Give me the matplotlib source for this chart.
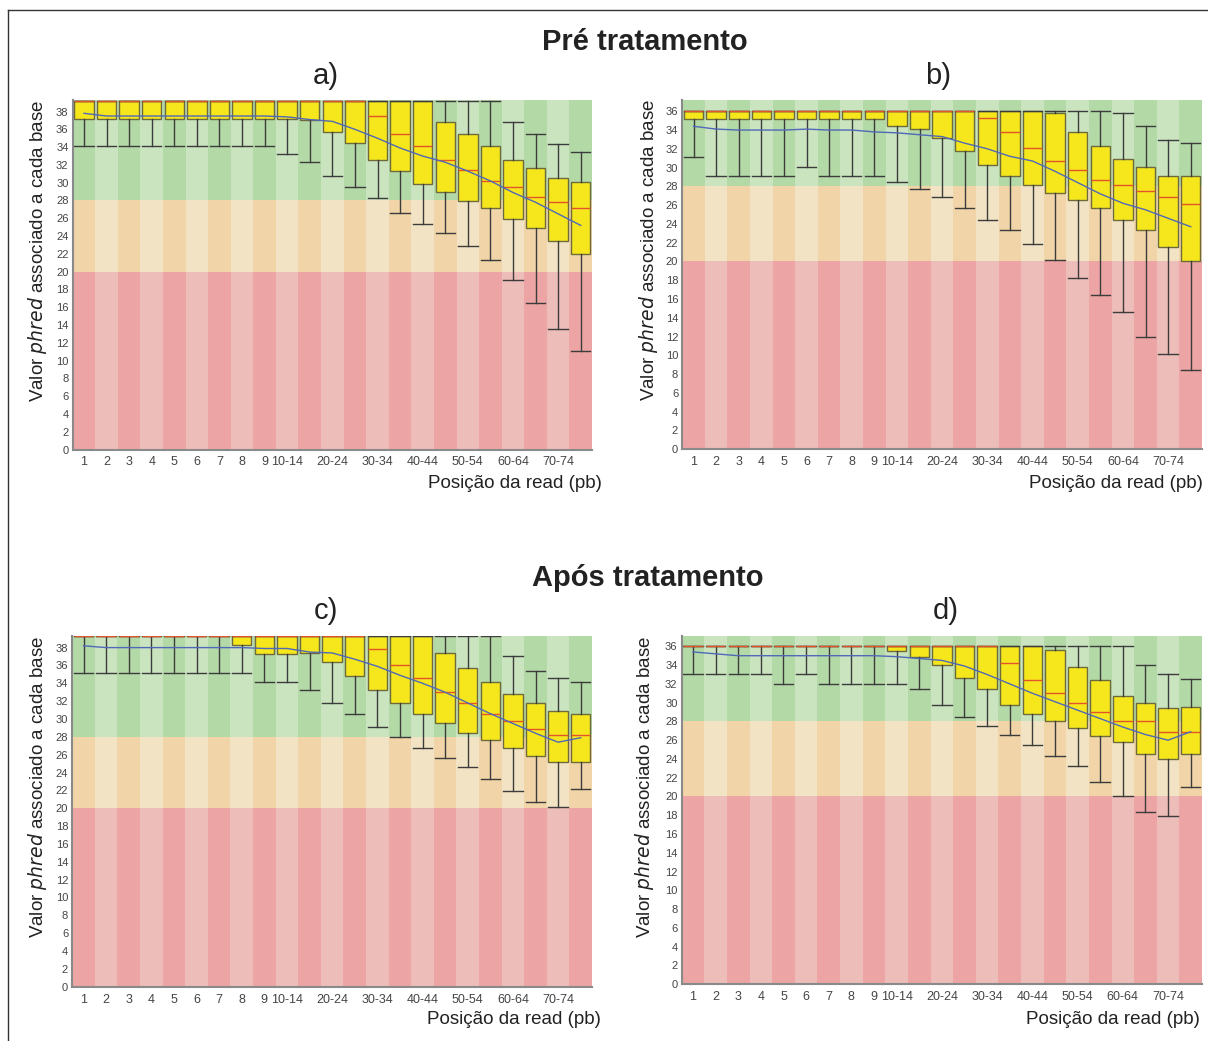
import numpy as np
import matplotlib.pyplot as plt
from matplotlib.lines import Line2D

plt.rcParams['font.family'] = ['Liberation Sans', 'DejaVu Sans']

pos_labels = ['1', '2', '3', '4', '5', '6', '7', '8', '9', '10-14', '15-19', '20-24',
              '25-29', '30-34', '35-39', '40-44', '45-49', '50-54', '55-59', '60-64',
              '65-69', '70-74', '75-76']
hidden = ['15-19', '25-29', '35-39', '45-49', '55-59', '65-69', '75-76']

# a) pre-treatment, read 1
a_q1 = [37.2]*9 + [37.2, 37.1, 35.7, 34.5, 32.6, 31.3, 29.9, 28.9, 27.9, 27.1, 25.9, 24.9, 23.5, 22.0]
a_med = [39.2]*13 + [37.5, 35.5, 34.1, 32.6, 31.4, 30.2, 29.5, 28.4, 27.8, 27.1]
a_q3 = [39.2]*16 + [36.8, 35.5, 34.1, 32.6, 31.6, 30.5, 30.1]
a_lo = [34.1]*9 + [33.2, 32.3, 30.7, 29.5, 28.3, 26.6, 25.4, 24.3, 22.9, 21.3, 19.1, 16.5, 13.6, 11.1]
a_hi = [39.2]*19 + [36.8, 35.5, 34.4, 33.5]
a_mean = [37.8, 37.5, 37.5, 37.5, 37.5, 37.5, 37.5, 37.5, 37.5, 37.4, 37.1, 36.9, 36.0,
          35.0, 33.9, 33.0, 32.3, 31.3, 30.2, 28.9, 27.8, 26.5, 25.2]

# b) pre-treatment, read 2
b_q1 = [35.2]*9 + [34.4, 34.1, 33.2, 31.8, 30.3, 29.1, 28.1, 27.3, 26.5, 25.7, 24.4, 23.3, 21.5, 20.1]
b_med = [36.0]*13 + [35.3, 33.8, 32.1, 30.7, 29.7, 28.7, 28.1, 27.5, 26.9, 26.1]
b_q3 = [36.0]*16 + [35.8, 33.8, 32.3, 30.9, 30.1, 29.1, 29.1]
b_lo = [31.1, 29.1, 29.1, 29.1, 29.1, 30.1, 29.1, 29.1, 29.1, 28.5, 27.7, 26.9, 25.7,
        24.4, 23.3, 21.9, 20.2, 18.2, 16.4, 14.6, 11.9, 10.1, 8.45]
b_hi = [36.0]*19 + [35.8, 34.4, 32.9, 32.6]
b_mean = [34.4, 34.1, 34.0, 34.0, 34.0, 34.1, 34.0, 34.0, 33.8, 33.7, 33.5, 33.3, 32.6,
          32.0, 31.2, 30.7, 29.6, 28.4, 27.2, 26.2, 25.5, 24.6, 23.7]

# c) post-treatment, read 1
c_q1 = [39.3]*7 + [38.3, 37.3, 37.3, 37.4, 36.4, 34.8, 33.3, 31.8, 30.6, 29.6, 28.4, 27.6, 26.8, 25.8, 25.2, 25.2]
c_med = [39.3]*13 + [37.8, 36.1, 34.6, 33.0, 31.8, 30.6, 29.8, 28.9, 28.2, 28.2]
c_q3 = [39.3]*16 + [37.4, 35.7, 34.2, 32.8, 31.8, 30.9, 30.6]
c_lo = [35.2]*8 + [34.2, 34.2, 33.3, 31.8, 30.6, 29.1, 28.0, 26.8, 25.6, 24.6, 23.3, 21.9, 20.7, 20.1, 22.1]
c_hi = [39.3]*19 + [37.1, 35.4, 34.6, 34.2]
c_mean = [38.2, 38.0, 38.0, 38.0, 38.0, 38.0, 38.0, 38.0, 37.9, 37.9, 37.5, 37.4, 36.7,
          35.9, 34.9, 34.0, 33.0, 31.8, 30.6, 29.5, 28.4, 27.4, 27.9]

# d) post-treatment, read 2
d_q1 = [36.0]*9 + [35.5, 34.9, 34.0, 32.6, 31.5, 29.8, 28.8, 28.0, 27.3, 26.4, 25.8, 24.5, 24.0, 24.5]
d_med = [36.0]*14 + [34.2, 32.4, 31.0, 30.0, 29.0, 28.0, 28.0, 26.9, 26.9]
d_q3 = [36.0]*16 + [35.6, 33.8, 32.4, 30.7, 30.0, 29.4, 29.5]
d_lo = [33.1, 33.1, 33.1, 33.1, 32.0, 33.1, 32.0, 32.0, 32.0, 32.0, 31.5, 29.8, 28.5,
        27.5, 26.5, 25.5, 24.3, 23.2, 21.5, 20.1, 18.3, 17.9, 21.0]
d_hi = [36.0]*20 + [34.0, 33.1, 32.5]
d_mean = [35.4, 35.2, 35.0, 35.0, 35.0, 35.0, 35.0, 35.0, 35.0, 34.9, 34.7, 34.5, 33.9,
          33.0, 32.0, 31.0, 30.1, 29.2, 28.3, 27.4, 26.6, 26.0, 26.9]


def panel(ax, q1, med, q3, lo, hi, mean, ytop):
    x = np.arange(1, len(pos_labels) + 1)
    even = np.arange(len(x)) % 2 == 0
    zones = [(0, 20, '#eca5a4', '#edbdba'),
             (20, 28, '#f1d5a8', '#f2e3c4'),
             (28, ytop, '#b3d9a7', '#cae4c0')]
    for z0, z1, cd, cl in zones:
        ax.bar(x, z1 - z0, bottom=z0, width=1.0, color=np.where(even, cd, cl),
               linewidth=0, zorder=0)
    stats = []
    for i in range(len(x)):
        stats.append(dict(med=med[i], q1=q1[i], q3=q3[i], whislo=lo[i], whishi=hi[i], fliers=[]))
    ax.bxp(stats, positions=x, widths=0.86, capwidths=0.86, patch_artist=True,
           showfliers=False, manage_ticks=False,
           boxprops=dict(facecolor='#f6e71c', edgecolor='#6e6a3c', linewidth=1.0),
           medianprops=dict(color='#e2552a', linewidth=1.0),
           whiskerprops=dict(color='#3c3c3c', linewidth=1.0),
           capprops=dict(color='#3c3c3c', linewidth=1.0), zorder=2)
    ax.plot(x, mean, color='#5068b8', linewidth=1.0, zorder=3)
    ax.set_xlim(0.5, len(x) + 0.5)
    ax.set_ylim(0, ytop)
    ax.set_yticks(np.arange(0, int(ytop) + 1, 2))
    ax.set_xticks(x)
    ax.set_xticklabels(['' if l in hidden else l for l in pos_labels])
    ax.tick_params(axis='x', length=0, pad=5, labelsize=9, colors='#444444')
    ax.tick_params(axis='y', length=0, pad=3, labelsize=8, colors='#444444')
    for s in ['top', 'right']:
        ax.spines[s].set_visible(False)
    for s in ['left', 'bottom']:
        ax.spines[s].set_color('#8a8a8a')
        ax.spines[s].set_linewidth(1.5)


W, H = 1208, 1041
fig = plt.figure(figsize=(W / 100, H / 100), dpi=100)

def box(x0, y0, x1, y1):
    return [x0 / W, 1 - y1 / H, (x1 - x0) / W, (y1 - y0) / H]

ax_a = fig.add_axes(box(72.7, 100, 592, 449.5))
ax_b = fig.add_axes(box(682.3, 100, 1202, 449.2))
ax_c = fig.add_axes(box(72.3, 636, 592, 986.7))
ax_d = fig.add_axes(box(681.7, 636, 1202, 984.2))

panel(ax_a, a_q1, a_med, a_q3, a_lo, a_hi, a_mean, 39.3)
panel(ax_b, b_q1, b_med, b_q3, b_lo, b_hi, b_mean, 37.2)
panel(ax_c, c_q1, c_med, c_q3, c_lo, c_hi, c_mean, 39.3)
panel(ax_d, d_q1, d_med, d_q3, d_lo, d_hi, d_mean, 37.1)

fig.text(645 / W, 1 - 42 / H, 'Pré tratamento', ha='center', va='center',
         fontsize=21, fontweight='bold', color='#222222')
fig.text(648 / W, 1 - 578 / H, 'Após tratamento', ha='center', va='center',
         fontsize=21, fontweight='bold', color='#222222')
for lab, xx, yy in [('a)', 326, 76), ('b)', 938, 76), ('c)', 326, 611), ('d)', 946, 611)]:
    fig.text(xx / W, 1 - yy / H, lab, ha='center', va='center', fontsize=21, color='#222222')

ylab = r'Valor $\it{phred}$ associado a cada base'
for xx, yy in [(38, 251), (648, 250), (38, 787), (645, 787)]:
    fig.text(xx / W, 1 - yy / H, ylab, rotation=90, ha='center', va='center',
             fontsize=13.5, color='#222222')
for xx, yy in [(602, 484), (1203, 484), (601, 1019), (1200, 1019)]:
    fig.text(xx / W, 1 - yy / H, 'Posição da read (pb)', ha='right', va='center',
             fontsize=13.5, color='#222222')

fig.add_artist(Line2D([8 / W, 8 / W], [0, 1 - 10 / H], color='#333333', linewidth=1))
fig.add_artist(Line2D([8 / W, 1], [1 - 10 / H, 1 - 10 / H], color='#333333', linewidth=1))

fig.savefig('out.png', dpi=100)
